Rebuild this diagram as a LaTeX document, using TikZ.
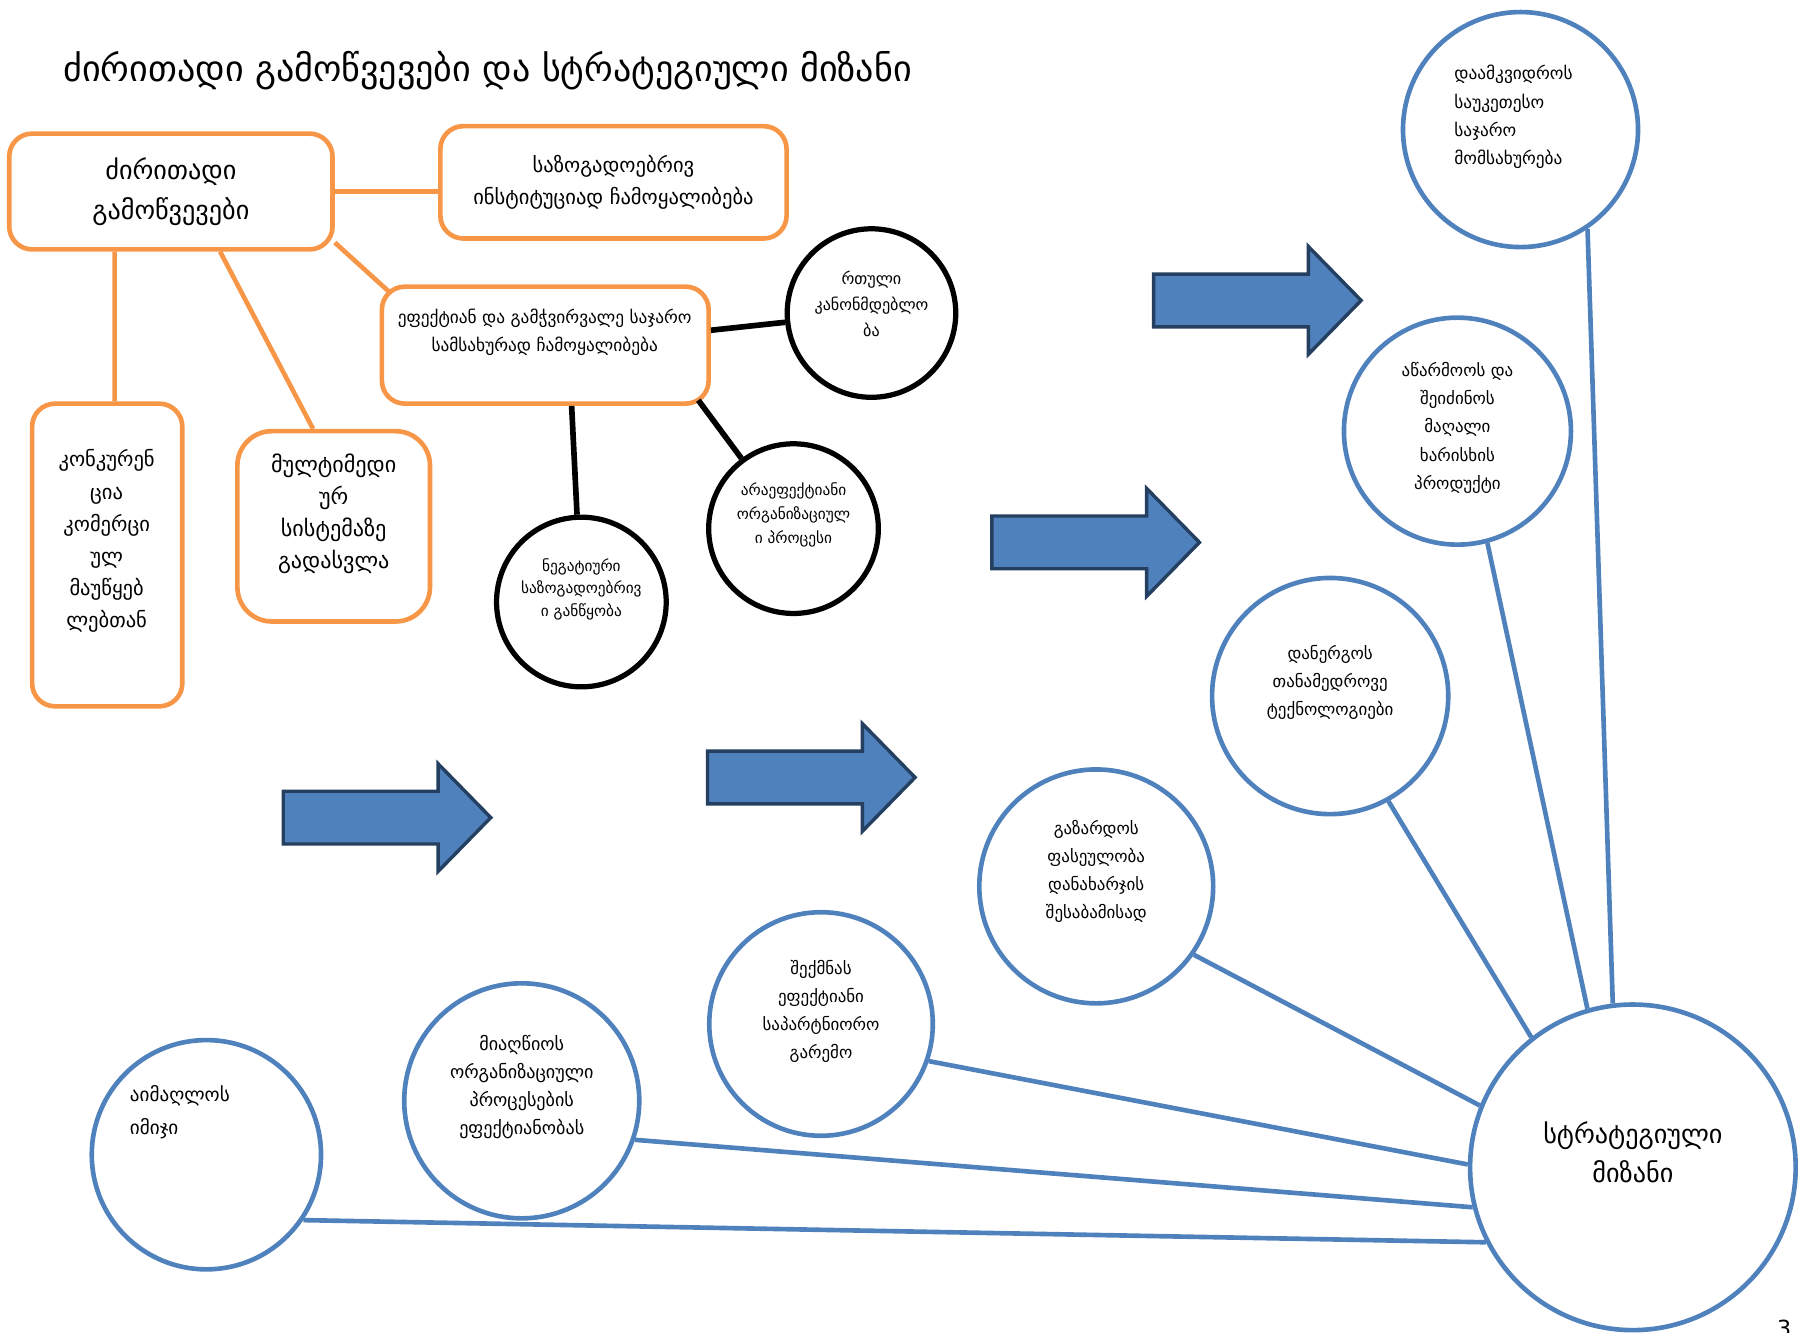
\documentclass[tikz,border=0pt]{standalone}
\usepackage{fontspec}
\setmainfont{DejaVu Sans}
\usetikzlibrary{calc}

\definecolor{orangeline}{HTML}{F79646}
\definecolor{blueline}{HTML}{4F81BD}
\definecolor{darkblue}{HTML}{243F60}

\tikzset{
  obox/.style={draw=orangeline, line width=2.3pt, rounded corners=0.4cm},
  oline/.style={draw=orangeline, line width=2.3pt},
  kcirc/.style={circle, draw=black, line width=2.6pt, inner sep=0pt},
  kline/.style={draw=black, line width=2.8pt},
  ucirc/.style={circle, draw=blueline, line width=2.3pt, inner sep=0pt},
  uline/.style={draw=blueline, line width=2.3pt},
  barrow/.style={fill=blueline, draw=darkblue, line width=1.7pt},
  txt/.style={inner sep=0pt, align=center},
}

% block arrow: left end x, tip y
\newcommand{\bluearrow}[2]{%
  \draw[barrow] (#1,#2-23) -- ++(135,0) -- ++(0,-24) -- ++(46,47)
    -- ++(-46,47) -- ++(0,-24) -- ++(-135,0) -- cycle;}

\begin{document}
\begin{tikzpicture}[x=0.02cm, y=-0.02cm]
  \useasboundingbox (0,0) rectangle (1568,1162);

  % title
  \node[txt, anchor=west, font=\fontsize{17.9}{22}\selectfont] (title) at (55,62)
    {ძირითადი გამოწვევები და სტრატეგიული მიზანი};

  % orange boxes
  \node[obox, txt, minimum width=5.64cm, minimum height=2.02cm,
        font=\fontsize{13}{20}\selectfont] (box1) at (149,167)
    {ძირითადი\\გამოწვევები};
  \node[obox, txt, minimum width=6.04cm, minimum height=1.96cm,
        font=\fontsize{10.2}{16}\selectfont] (box2) at (535,159)
    {საზოგადოებრივ\\ინსტიტუციად ჩამოყალიბება};
  \node[obox, minimum width=5.7cm, minimum height=2.04cm] (box3) at (475.5,301) {};
  \node[txt, font=\fontsize{8.6}{14}\selectfont] (box3t) at (475,289.5)
    {ეფექტიან და გამჭვირვალე საჯარო\\სამსახურად ჩამოყალიბება};
  \node[obox, minimum width=2.62cm, minimum height=5.28cm] (box4) at (93.5,484) {};
  \node[txt, font=\fontsize{10.2}{16}\selectfont] (box4t) at (93,472)
    {კონკურენ\\ცია\\კომერცი\\ულ\\მაუწყებ\\ლებთან};
  \node[obox, rounded corners=0.6cm, minimum width=3.36cm, minimum height=3.32cm] (box5) at (291,459) {};
  \node[txt, font=\fontsize{11}{16}\selectfont] (box5t) at (291,448)
    {მულტიმედი\\ურ\\სისტემაზე\\გადასვლა};

  \draw[oline] (box1.east) -- (box1.east -| box2.west);
  \draw[oline] ($(box1.south east)+(0,-8)$) -- ($(box3.north west)+(10,8)$);
  \draw[oline] ($(box1.south)+(-49,0)$) -- ($(box4.north)+(6.5,0)$);
  \draw[oline] ($(box1.south)+(43,0)$) -- ($(box5.north)+(-18,0)$);

  % black circles
  \node[kcirc, minimum size=2.94cm] (c1) at (760,273) {};
  \node[txt, font=\fontsize{8}{13}\selectfont] (c1t) at (760,265)
    {რთული\\კანონმდებლო\\ბა};
  \node[kcirc, minimum size=2.96cm] (c2) at (507,525) {};
  \node[txt, font=\fontsize{7.6}{11}\selectfont] (c2t) at (507,514)
    {ნეგატიური\\საზოგადოებრივ\\ი განწყობა};
  \node[kcirc, minimum size=2.96cm] (c3) at (692,461) {};
  \node[txt, font=\fontsize{7.6}{12}\selectfont] (c3t) at (692,449)
    {არაეფექტიანი\\ორგანიზაციულ\\ი პროცესი};

  \draw[kline] ($(box3.east)+(0,-13)$) -- (c1);
  \draw[kline] ($(box3.south)+(23,0)$) -- (c2);
  \draw[kline] ($(box3.south east)+(-11,-5)$) -- (c3);

  % block arrows
  \bluearrow{1006}{262}
  \bluearrow{865}{473}
  \bluearrow{617}{678}
  \bluearrow{247}{713}

  % blue circles
  \node[ucirc, minimum size=4.1cm] (b1) at (1326,113) {};
  \node[txt, align=left, anchor=west, font=\fontsize{8.6}{14}\selectfont] (b1t) at (1268,102)
    {დაამკვიდროს\\საუკეთესო\\საჯარო\\მომსახურება};
  \node[ucirc, minimum size=3.96cm] (b2) at (1271,376) {};
  \node[txt, font=\fontsize{8.4}{14}\selectfont] (b2t) at (1271,373)
    {აწარმოოს და\\შეიძინოს\\მაღალი\\ხარისხის\\პროდუქტი};
  \node[ucirc, minimum size=4.12cm] (b3) at (1160,607) {};
  \node[txt, font=\fontsize{8.4}{14}\selectfont] (b3t) at (1160,595)
    {დანერგოს\\თანამედროვე\\ტექნოლოგიები};
  \node[ucirc, minimum size=4.08cm] (b4) at (956,773) {};
  \node[txt, font=\fontsize{8.4}{14}\selectfont] (b4t) at (956,760)
    {გაზარდოს\\ფასეულობა\\დანახარჯის\\შესაბამისად};
  \node[ucirc, minimum size=3.9cm] (b5) at (716,893) {};
  \node[txt, font=\fontsize{8.4}{14}\selectfont] (b5t) at (716,882)
    {შექმნას\\ეფექტიანი\\საპარტნიორო\\გარემო};
  \node[ucirc, minimum size=4.1cm] (b6) at (455,960) {};
  \node[txt, font=\fontsize{9}{14}\selectfont] (b6t) at (455,948)
    {მიაღწიოს\\ორგანიზაციული\\პროცესების\\ეფექტიანობას};
  \node[ucirc, minimum size=4.0cm] (b7) at (180,1007) {};
  \node[txt, align=left, anchor=west, font=\fontsize{9.5}{16.5}\selectfont] (b7t) at (113,970)
    {აიმაღლოს\\იმიჯი};
  \node[ucirc, minimum size=5.68cm] (goal) at (1424,1018) {};
  \node[txt, font=\fontsize{13}{19}\selectfont] (goalt) at (1424,1005)
    {სტრატეგიული\\მიზანი};

  \draw[uline] (b1.-56) -- (goal.97);
  \draw[uline] (b2.-75) -- (goal.106);
  \draw[uline] (b3.-61) -- (goal.128);
  \draw[uline] (b4.-35) -- (goal.158);
  \draw[uline] (b5.-19) -- (goal.179);
  \draw[uline] (b6.-19) -- (goal.-166);
  \draw[uline] (b7.-34) -- (goal.-153);

  % page number
  \node[txt, anchor=north, font=\fontsize{11}{13}\selectfont] (pnum) at (1556,1151) {3};
\end{tikzpicture}
\end{document}
